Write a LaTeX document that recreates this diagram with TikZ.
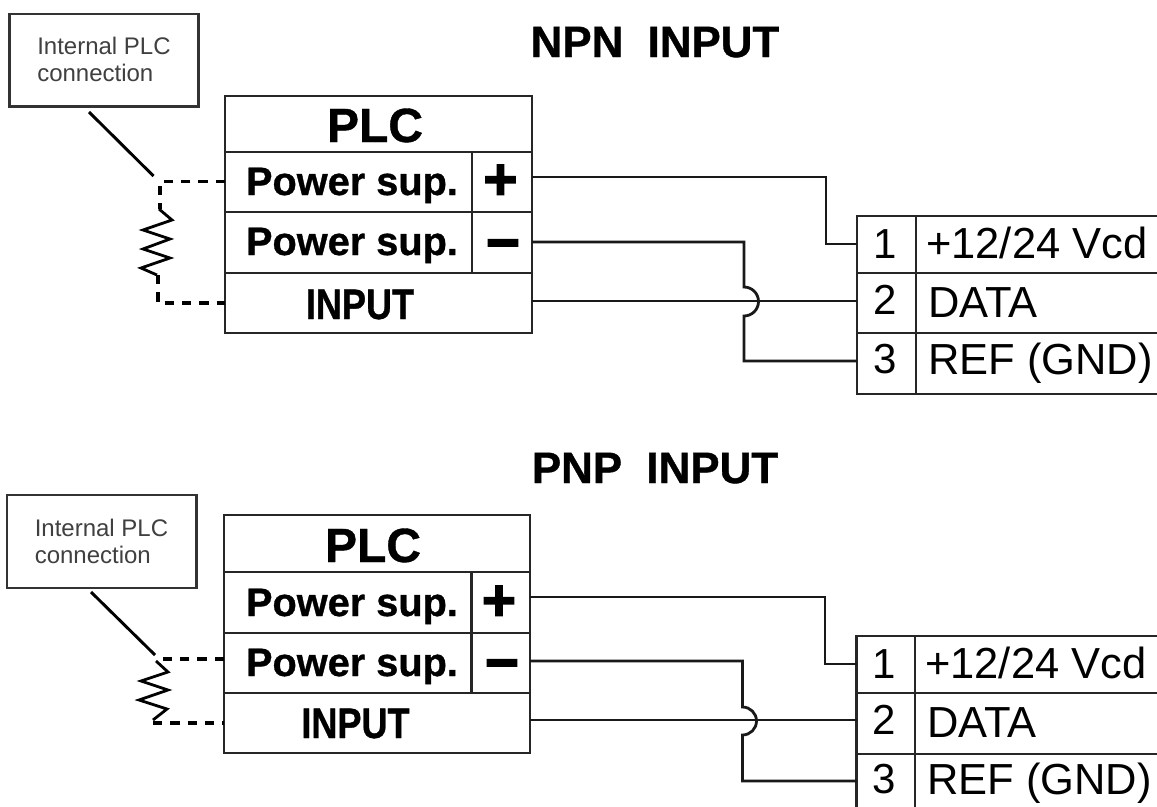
\documentclass[tikz,border=0pt]{standalone}
\usepackage{graphicx}
\usepackage{fontspec}
\setmainfont{Liberation Sans}
\newfontface\heavyA{Liberation Sans Bold}[FakeBold=0.8]
\newfontface\heavyB{Liberation Sans Bold}[FakeBold=2.5]
\tikzset{
  wire/.style={line width=2.1pt,black!90},
  frame/.style={line width=2pt,black!85},
  thin frame/.style={line width=1.6pt,black!80},
  dash wire/.style={line width=2.4pt,black,dash pattern=on 7pt off 6pt},
  zig/.style={line width=2.1pt,black,line join=miter},
  pointer/.style={line width=2.2pt,black},
  title/.style={inner sep=0pt,anchor=base,font=\fontsize{32.9pt}{36pt}\selectfont\heavyA},
  plchead/.style={inner sep=0pt,anchor=base,font=\fontsize{36pt}{40pt}\selectfont\heavyA},
  rowlab/.style={inner sep=0pt,anchor=base,font=\fontsize{29.8pt}{32pt}\selectfont\heavyA},
  inlab/.style={inner sep=0pt,anchor=base,font=\fontsize{32pt}{34pt}\selectfont\heavyA},
  sign/.style={inner sep=0pt,font=\fontsize{44pt}{46pt}\selectfont\heavyB},
  num/.style={inner sep=0pt,anchor=base,font=\fontsize{31.5pt}{34pt}\selectfont},
  con/.style={inner sep=0pt,anchor=base west,font=\fontsize{32.6pt}{36pt}\selectfont},
  calltext/.style={inner sep=0pt,anchor=base west,black!75,font=\fontsize{18pt}{20pt}\selectfont},
}
\begin{document}
\begin{tikzpicture}[x=0.75pt,y=-0.75pt]
\useasboundingbox (0,0) rectangle (1157,807);
\fill[white] (0,0) rectangle (1157,807);
% ---------- NPN ----------
\node[title] (t1) at (655,57) {NPN\ \ INPUT};
\draw[thin frame] (9.5,14) rectangle (198.5,106.5);
\node[calltext] (c1a) at (37,54) {Internal PLC};
\node[calltext] (c1b) at (37,81) {connection};
\coordinate (p1a) at (89,112);
\coordinate (p1b) at (153.5,176);
\draw[pointer] (p1a) -- (p1b);
\draw[frame] (225,96) rectangle (532,333);
\draw[frame] (225,152) -- (532,152) (225,212) -- (532,212) (225,273) -- (532,273) (472,152) -- (472,273);
\node[plchead] (h1) at (375,142) {PLC};
\node[rowlab] (r1a) at (352,195) {Power sup.};
\node[rowlab] (r1b) at (352,255) {Power sup.};
\node[inlab] (r1c) at (360,319) {\scalebox{0.845}[1]{INPUT}};
\node[sign] (s1a) at (500.5,182) {+};
\node[sign] (s1b) at (503,251) {−};
\draw[frame] (1157,216) -- (857,216) -- (857,394) -- (1157,394);
\draw[frame] (857,273) -- (1157,273) (857,333) -- (1157,333) (916,216) -- (916,394);
\node[num] (n1a) at (885,258) {1};
\node[num] (n1b) at (885,314) {2};
\node[num] (n1c) at (885,373) {3};
\node[con] (l1a) at (926,258) {+12/24 Vcd};
\node[con] (l1b) at (928,317) {DATA};
\node[con] (l1c) at (928,374) {REF (GND)};
\draw[wire] (532,177) -- (826,177) -- (826,244) -- (857,244);
\draw[wire] (532,301) -- (857,301);
\draw[wire] (532,242) -- (744,242) -- (744,287) arc[start angle=-90,end angle=90,radius=14.5] -- (744,361) -- (857,361);
\draw[dash wire] (225,181.5) -- (160,181.5) -- (160,209);
\draw[zig] (159,209) -- (172,220) -- (143,230) -- (170,239) -- (143,249) -- (170,258) -- (141,268) -- (157,275);
\draw[dash wire] (158,275) -- (158,303) -- (225,303);
% ---------- PNP ----------
\node[title] (t2) at (655,483) {PNP\ \ INPUT};
\draw[thin frame] (7,495) rectangle (196.5,588);
\node[calltext] (c2a) at (34.5,536) {Internal PLC};
\node[calltext] (c2b) at (34.5,563) {connection};
\coordinate (p2a) at (91,592);
\coordinate (p2b) at (155,655);
\draw[pointer] (p2a) -- (p2b);
\draw[frame] (224,515) rectangle (530,753);
\draw[frame] (224,572) -- (530,572) (224,633) -- (530,633) (224,693) -- (530,693) (471.5,572) -- (471.5,693);
\node[plchead] (h2) at (373,562) {PLC};
\node[rowlab] (r2a) at (352,616) {Power sup.};
\node[rowlab] (r2b) at (352,676) {Power sup.};
\node[inlab] (r2c) at (355.5,738) {\scalebox{0.845}[1]{INPUT}};
\node[sign] (s2a) at (499,603) {+};
\node[sign] (s2b) at (502,671) {−};
\draw[frame] (1157,636) -- (856.5,636) -- (856.5,807);
\draw[frame] (856.5,693) -- (1157,693) (856.5,754) -- (1157,754) (915,636) -- (915,807);
\node[num] (n2a) at (884,678) {1};
\node[num] (n2b) at (884,734) {2};
\node[num] (n2c) at (884,793) {3};
\node[con] (l2a) at (925,678) {+12/24 Vcd};
\node[con] (l2b) at (927,737) {DATA};
\node[con] (l2c) at (927,794) {REF (GND)};
\draw[wire] (530,597) -- (825,597) -- (825,664) -- (856.5,664);
\draw[wire] (530,720) -- (856.5,720);
\draw[wire] (530,661) -- (742.5,661) -- (742.5,707) arc[start angle=-90,end angle=90,radius=14] -- (742.5,781) -- (856.5,781);
\draw[dash wire] (224,659) -- (155,659);
\draw[zig] (156,661) -- (168,672) -- (141,681) -- (168,690) -- (139,700) -- (167,709) -- (153,720);
\draw[dash wire] (153,723) -- (224,723);
\end{tikzpicture}
\end{document}
